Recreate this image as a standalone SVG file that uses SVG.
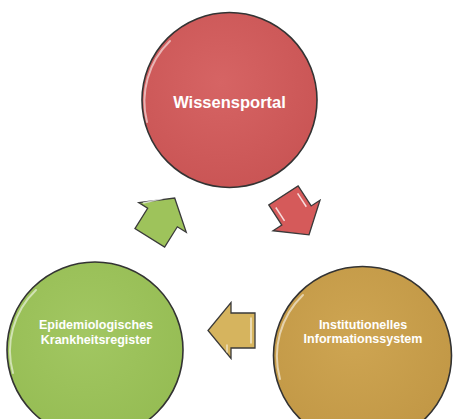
<svg xmlns="http://www.w3.org/2000/svg" width="454" height="419" viewBox="0 0 454 419">
<defs>
<radialGradient id="gRed" cx="45%" cy="40%" r="65%"><stop offset="0" stop-color="#D66464"/><stop offset="1" stop-color="#C95454"/></radialGradient>
<radialGradient id="gGreen" cx="45%" cy="40%" r="65%"><stop offset="0" stop-color="#A2C762"/><stop offset="1" stop-color="#95BC53"/></radialGradient>
<radialGradient id="gGold" cx="45%" cy="40%" r="65%"><stop offset="0" stop-color="#CEA552"/><stop offset="1" stop-color="#C19745"/></radialGradient>
<path id="arrow" d="M-24,-17.5 L0,-17.5 L0,-28 L23,0 L0,28 L0,17.5 L-24,17.5 Z"/>
</defs>
<style>
.circ{stroke:#333;stroke-width:1.6}
.hl{fill:none;stroke:#fff;stroke-opacity:0.55;stroke-width:2;stroke-linecap:round}
.arr{stroke:#3a3a3a;stroke-width:1.3;stroke-linejoin:miter}
.t{font-family:"Liberation Sans",Arial,sans-serif;font-weight:bold;fill:#fff;text-anchor:middle}
</style>
<rect width="454" height="419" fill="#fff"/>
<g id="wissensportal">
<circle class="circ" cx="229.5" cy="100" r="87.5" fill="url(#gRed)"/>
<path class="hl" d="M147,122 A84,84 0 0 1 170,41"/>
<text class="t" x="229.5" y="108" font-size="16.5">Wissensportal</text>
</g>
<g id="epidemiologisches">
<circle class="circ" cx="95" cy="350" r="88" fill="url(#gGreen)"/>
<path class="hl" d="M13,373 A84,84 0 0 1 36,290"/>
<text class="t" x="96" y="329" font-size="12.5">Epidemiologisches</text>
<text class="t" x="96" y="343.5" font-size="12.5">Krankheitsregister</text>
</g>
<g id="institutionelles">
<circle class="circ" cx="362.5" cy="355.5" r="89" fill="url(#gGold)"/>
<path class="hl" d="M280,379 A85,85 0 0 1 303,295"/>
<text class="t" x="363" y="329" font-size="12.5">Institutionelles</text>
<text class="t" x="363" y="343" font-size="12.5">Informationssystem</text>
</g>
<g id="connectors">
<g transform="translate(296.5,215.5) rotate(57)">
<use href="#arrow" class="arr" fill="#D55A5A"/>
<line x1="-18" y1="-13" x2="-2" y2="-13" stroke="#fff" stroke-opacity="0.8" stroke-width="1.5"/>
<line x1="-18" y1="13" x2="-2" y2="13" stroke="#fff" stroke-opacity="0.8" stroke-width="1.5"/>
</g>
<g transform="translate(162.5,217.5) rotate(-58)">
<use href="#arrow" class="arr" fill="#9EC35B"/>
<line x1="2" y1="-24" x2="16" y2="-10" stroke="#fff" stroke-opacity="0.7" stroke-width="1.5"/>
</g>
<g transform="translate(231,330.5) rotate(180)">
<use href="#arrow" class="arr" fill="#D6B45E"/>
<line x1="-20" y1="-13" x2="-20" y2="13" stroke="#fff" stroke-opacity="0.7" stroke-width="1.5"/>
<line x1="4" y1="-22" x2="4" y2="-14" stroke="#fff" stroke-opacity="0.6" stroke-width="1.5"/>
</g>
</g>
</svg>
